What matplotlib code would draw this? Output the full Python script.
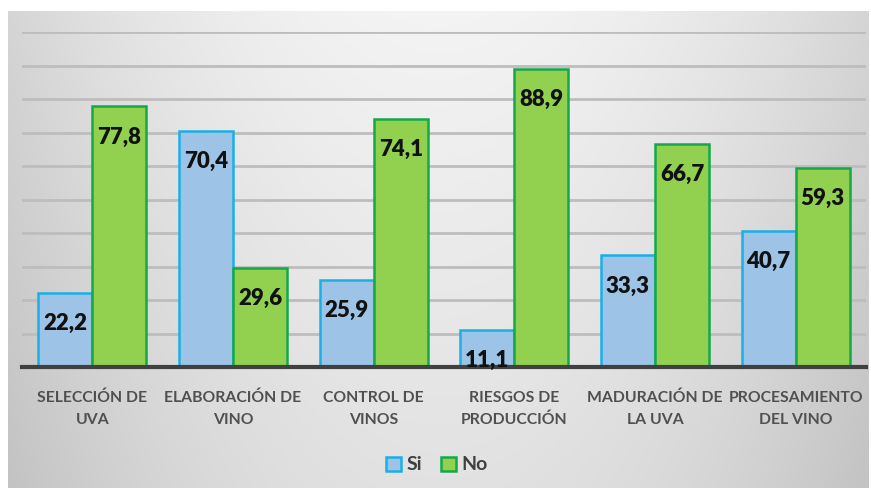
import matplotlib
matplotlib.use("Agg")
import matplotlib.pyplot as plt
import numpy as np
from matplotlib.patches import Patch

categories = ["SELECCIÓN DE\nUVA", "ELABORACIÓN DE\nVINO", "CONTROL DE\nVINOS",
              "RIESGOS DE\nPRODUCCIÓN", "MADURACIÓN DE\nLA UVA", "PROCESAMIENTO\nDEL VINO"]
si_values = [22.2, 70.4, 25.9, 11.1, 33.3, 40.7]
no_values = [77.8, 29.6, 74.1, 88.9, 66.7, 59.3]
series_names = ["Si", "No"]

W, H = 871, 488
fig = plt.figure(figsize=(W / 100, H / 100), dpi=100)
fig.patch.set_facecolor("white")

# background gradient panel
bg = fig.add_axes([8 / W, 0, (868 - 8) / W, (488 - 11) / H])
bg.set_axis_off()
xx = np.linspace(-1, 1, 300)
yy = np.linspace(0, 1, 200)
X, Y = np.meshgrid(xx, yy)
val = 0.955 - 0.12 * X ** 2 - 0.07 * Y
img = np.dstack([val, val, val])
bg.imshow(img, aspect="auto", extent=[0, 1, 0, 1], origin="upper")
bg.set_xlim(0, 1)
bg.set_ylim(0, 1)

ax = fig.add_axes([22 / W, (H - 367) / H, (866 - 22) / W, (367 - 32) / H])
ax.set_facecolor("none")
x = np.arange(len(categories))
bw = 0.385
blue_fill, blue_edge = "#9DC3E6", "#1AAFE6"
green_fill, green_edge = "#92D050", "#14A84A"

for g in range(10, 101, 10):
    ax.axhline(g, color="#BDBDBD", lw=2, zorder=0)

b1 = ax.bar(x - bw / 2, si_values, bw, color=blue_fill, edgecolor=blue_edge, linewidth=1.8, zorder=2)
b2 = ax.bar(x + bw / 2, no_values, bw, color=green_fill, edgecolor=green_edge, linewidth=1.8, zorder=2)

for bars, vals in ((b1, si_values), (b2, no_values)):
    for r, v in zip(bars, vals):
        ax.annotate(f"{v:.1f}".replace(".", ","), (r.get_x() + r.get_width() / 2, v),
                    xytext=(0, -22), textcoords="offset points", ha="center", va="center",
                    fontsize=16, fontweight="heavy", family="Lato", color="#111111", zorder=3)

ax.set_xlim(-0.5, len(categories) - 0.5)
ax.set_ylim(0, 100)
ax.set_yticks([])
ax.set_xticks(x)
ax.set_xticklabels(categories, family="Lato", fontsize=11.3, fontweight="bold",
                   color="#505050", linespacing=1.72)
ax.tick_params(axis="x", length=0, pad=17)
for s in ("top", "right", "left"):
    ax.spines[s].set_visible(False)
ax.spines["bottom"].set_color("#404040")
ax.spines["bottom"].set_linewidth(3)

handles = [Patch(facecolor=blue_fill, edgecolor=blue_edge, linewidth=1.8),
           Patch(facecolor=green_fill, edgecolor=green_edge, linewidth=1.8)]
fig.legend(handles, series_names, loc="center", bbox_to_anchor=(437 / W, (H - 465) / H),
           ncol=2, frameon=False, prop={"family": "Lato", "size": 14, "weight": "bold"},
           handlelength=0.75, handleheight=0.75, handletextpad=0.3, columnspacing=1.0,
           labelcolor="#404040")

fig.savefig("out.png", dpi=100)
